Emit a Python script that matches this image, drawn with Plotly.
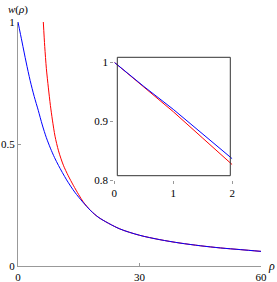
import plotly.graph_objects as go

# Main panel data
rho_main = [0, 1, 2, 3, 4, 5, 6, 7, 8, 9, 10, 12, 14, 16, 18, 20, 25, 30, 35, 40, 45, 50, 55, 60]
w_blue = [1.0, 0.918, 0.836, 0.76, 0.695, 0.638, 0.578, 0.526, 0.483, 0.445, 0.412, 0.353, 0.303, 0.262, 0.226, 0.198, 0.153, 0.126, 0.108, 0.094, 0.083, 0.074, 0.067, 0.060]
rho_red = [6.25, 6.6, 7.0, 7.5, 8.0, 8.5, 9.14, 10, 11.2, 12.4, 13.65, 15, 16.1, 18, 20, 25, 30, 35, 40, 45, 50, 55, 60]
w_red = [1.0, 0.9, 0.81, 0.73, 0.658, 0.598, 0.532, 0.472, 0.413, 0.37, 0.331, 0.292, 0.263, 0.226, 0.198, 0.153, 0.126, 0.108, 0.094, 0.083, 0.074, 0.067, 0.060]

# Inset data
rho_in = [0, 0.5, 1, 1.5, 2]
w_in_blue = [1.0, 0.959, 0.920, 0.878, 0.836]
w_in_red = [1.0, 0.958, 0.916, 0.871, 0.826]

main_x_ticks = [0, 30, 60]
main_y_ticks = [0, 0.5, 1]
in_x_ticks = [0, 1, 2]
in_y_ticks = [0.8, 0.9, 1]

BLUE = "#0000ff"
RED = "#ff0000"
FONT = "Liberation Serif, Times New Roman, serif"

fig = go.Figure()
fig.add_trace(go.Scatter(x=rho_red, y=w_red, mode="lines", line=dict(color=RED, width=1, shape="spline", smoothing=0.8), xaxis="x", yaxis="y", showlegend=False))
fig.add_trace(go.Scatter(x=rho_main, y=w_blue, mode="lines", line=dict(color=BLUE, width=1, shape="spline", smoothing=0.8), xaxis="x", yaxis="y", showlegend=False))
fig.add_trace(go.Scatter(x=rho_in, y=w_in_red, mode="lines", line=dict(color=RED, width=1), xaxis="x2", yaxis="y2", showlegend=False, cliponaxis=False))
fig.add_trace(go.Scatter(x=rho_in, y=w_in_blue, mode="lines", line=dict(color=BLUE, width=1), xaxis="x2", yaxis="y2", showlegend=False, cliponaxis=False))

W, H = 277, 282
ml, mr, mt, mb = 18, 16, 22, 16
pw, ph = W - ml - mr, H - mt - mb

def px(xp):
    return (xp - ml) / pw

def py(yp):
    return (H - mb - yp) / ph

axis_common = dict(showgrid=False, zeroline=False, automargin=False,
                   tickfont=dict(family=FONT, size=11, color="black"),
                   tickcolor="#999999", ticklen=3, tickwidth=1)

fig.update_layout(
    width=W, height=H,
    margin=dict(l=ml, r=mr, t=mt, b=mb, autoexpand=False),
    plot_bgcolor="white", paper_bgcolor="white",
    font=dict(family=FONT),
    xaxis=dict(domain=[0, 1], range=[0, 60], tickvals=main_x_ticks, ticktext=[str(v) for v in main_x_ticks],
               showline=True, linecolor="#999999", linewidth=1, ticks="inside", anchor="y",
               ticklabelstandoff=1, **axis_common),
    yaxis=dict(domain=[0, 1], range=[0, 1], tickvals=main_y_ticks, ticktext=["0", "0.5", "1"],
               showline=True, linecolor="#999999", linewidth=1, ticks="inside", anchor="x", **axis_common),
    xaxis2=dict(domain=[px(114.3), px(232.3)], range=[0, 2], tickvals=in_x_ticks, ticktext=["0", "1", "2"],
                showline=False, ticks="outside", anchor="y2", **axis_common),
    yaxis2=dict(domain=[py(180), py(62.3)], range=[0.8, 1], tickvals=in_y_ticks, ticktext=["0.8", "0.9", "1"],
                showline=False, ticks="outside", anchor="x2", **axis_common),
    shapes=[dict(type="rect", xref="paper", yref="paper", x0=px(117.3), x1=px(230.3), y0=py(175.7), y1=py(57.3),
                 line=dict(color="#333333", width=1))],
    annotations=[
        dict(text="<i>w</i>(<i>ρ</i>)", xref="paper", yref="paper", x=px(18), y=py(9), xanchor="center", yanchor="middle",
             showarrow=False, font=dict(family=FONT, size=11, color="black")),
        dict(text="<i>ρ</i>", xref="paper", yref="paper", x=px(271), y=py(266), xanchor="center", yanchor="middle",
             showarrow=False, font=dict(family=FONT, size=12, color="black")),
    ],
)

fig.write_html("out.html", config={"displayModeBar": False},
               post_script="document.body.style.margin='0';")
